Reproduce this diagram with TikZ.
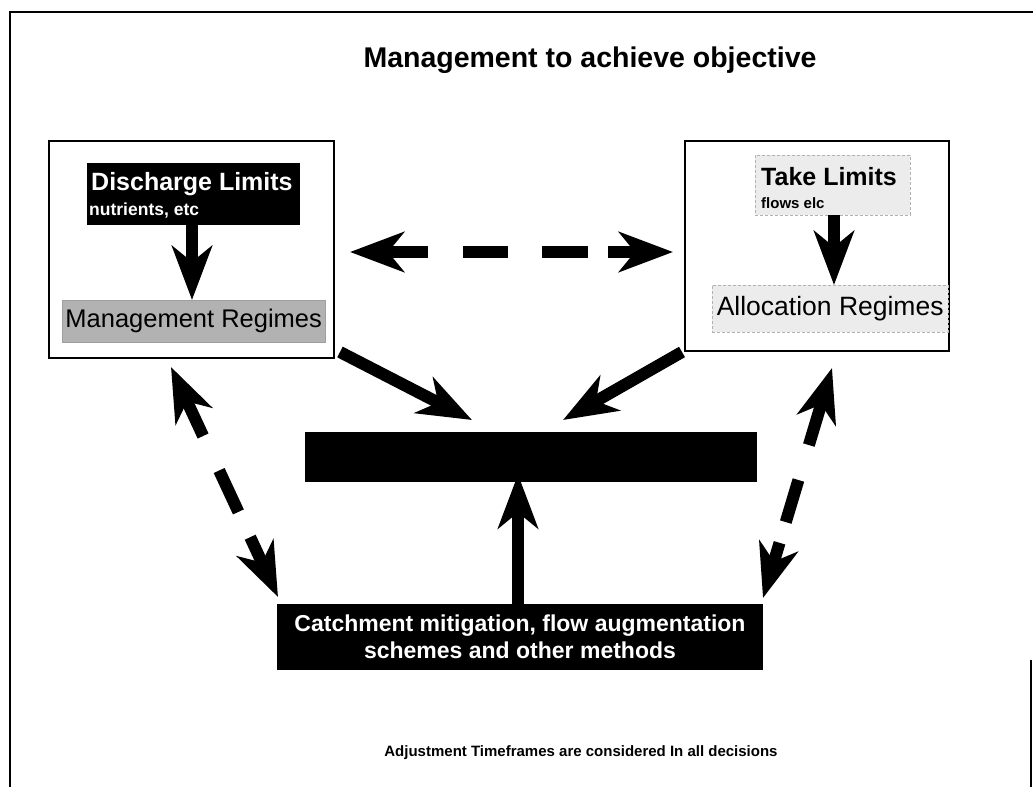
\documentclass[tikz,border=0pt]{standalone}
\usepackage{fontspec}
\setmainfont{Liberation Sans}
\usetikzlibrary{arrows.meta,calc}
\begin{document}
\begin{tikzpicture}[x=1pt,y=-1pt,
  frame/.style={draw=black,line width=1.5pt},
  panel/.style={draw=black,line width=1.5pt,fill=white},
  greybox/.style={fill=gray!60,draw=gray!75,text=black,inner sep=0pt},
  lightbox/.style={fill=gray!15,draw=gray!60,densely dashed,text=black,inner sep=0pt},
  bigarrow/.style={line width=12pt,-{Stealth[length=54pt,width=40pt,inset=16pt]}},
  dashbar/.style={line width=12pt,line cap=butt},
]
\useasboundingbox (0,0) rectangle (1033,787);
% page frame
\draw[frame] (10,787) -- (10,12) -- (1033,12);
\draw[frame] (1031,660) -- (1031,787);

% title
\node[font=\bfseries\fontsize{28.5}{32}\selectfont] (title) at (590,60) {Management to achieve objective};

% left panel
\node[panel,minimum width=285pt,minimum height=217pt,anchor=north west] (lp) at (48,140) {};
\node[fill=black,minimum width=213pt,minimum height=62pt,anchor=north west,inner sep=0pt] (dlbox) at (87,163) {};
\node[anchor=west,text=white,font=\bfseries\fontsize{25}{27}\selectfont,inner sep=0pt] (dl) at (91,184) {Discharge Limits};
\node[anchor=west,text=white,font=\bfseries\fontsize{17.5}{19}\selectfont,inner sep=0pt] (dln) at (89,211) {nutrients, etc};
\node[greybox,minimum width=263pt,minimum height=42pt,anchor=north west,font=\fontsize{25.5}{27}\selectfont] (mr) at (62,300) {Management Regimes};

% right panel
\node[panel,minimum width=264pt,minimum height=210pt,anchor=north west] (rp) at (684,140) {};
\node[lightbox,minimum width=155pt,minimum height=60pt,anchor=north west] (tlbox) at (755,155) {};
\node[anchor=west,font=\bfseries\fontsize{25}{27}\selectfont,inner sep=0pt] (tl) at (761,177) {Take Limits};
\node[anchor=west,font=\bfseries\fontsize{15}{17}\selectfont,inner sep=0pt] (tlf) at (761,203) {flows elc};
\node[lightbox,minimum width=236pt,minimum height=47pt,anchor=north west,font=\fontsize{26.5}{28}\selectfont] (ar) at (712,285) {Allocation Regimes};

% central box
\node[fill=black,minimum width=452pt,minimum height=50pt,anchor=north west,inner sep=0pt] (cb) at (305,432) {};

% catchment box
\node[fill=black,minimum width=486pt,minimum height=66pt,anchor=north west,inner sep=0pt] (ct) at (277,604) {};
\node[text=white,font=\bfseries\fontsize{23}{27}\selectfont,align=center] (ctt) at (520,637) {Catchment mitigation, flow augmentation\\schemes and other methods};

% bottom note
\node[font=\bfseries\fontsize{15}{17}\selectfont] (note) at (581,753) {Adjustment Timeframes are considered In all decisions};

% arrows inside panels
\draw[bigarrow] (dlbox.south -| 192,0) -- (mr.north -| 192,0);
\draw[bigarrow] (tlbox.south -| 834,0) -- (ar.north -| 834,0);

% horizontal dashed double arrow
\coordinate (hl) at (350,252);
\coordinate (hr) at (673,252);
\draw[bigarrow] ($(hl)!0.24!(hr)$) -- (hl);
\draw[dashbar] ($(hl)!0.35!(hr)$) -- ($(hl)!0.49!(hr)$);
\draw[dashbar] ($(hl)!0.594!(hr)$) -- ($(hl)!0.737!(hr)$);
\draw[bigarrow] ($(hl)!0.80!(hr)$) -- (hr);

% solid arrows into central box
\coordinate (la) at (340,352);
\coordinate (lt) at (472,420);
\coordinate (ra) at (682,352);
\coordinate (rt) at (563,420);
\draw[bigarrow] (la) -- (lt);
\draw[bigarrow] (ra) -- (rt);
\draw[bigarrow] (ct.north -| 518,0) -- ([yshift=8pt]cb.south -| 518,0);

% dashed diagonal double arrows (left)
\coordinate (dl1) at (171,367);
\coordinate (dl2) at (278,597);
\draw[bigarrow] ($(dl1)!0.30!(dl2)$) -- (dl1);
\draw[dashbar] ($(dl1)!0.45!(dl2)$) -- ($(dl1)!0.63!(dl2)$);
\draw[bigarrow] ($(dl1)!0.74!(dl2)$) -- (dl2);

% dashed diagonal double arrows (right)
\coordinate (dr1) at (832,368);
\coordinate (dr2) at (763,598);
\draw[bigarrow] ($(dr1)!0.335!(dr2)$) -- (dr1);
\draw[dashbar] ($(dr1)!0.487!(dr2)$) -- ($(dr1)!0.67!(dr2)$);
\draw[bigarrow] ($(dr1)!0.76!(dr2)$) -- (dr2);
\end{tikzpicture}
\end{document}
